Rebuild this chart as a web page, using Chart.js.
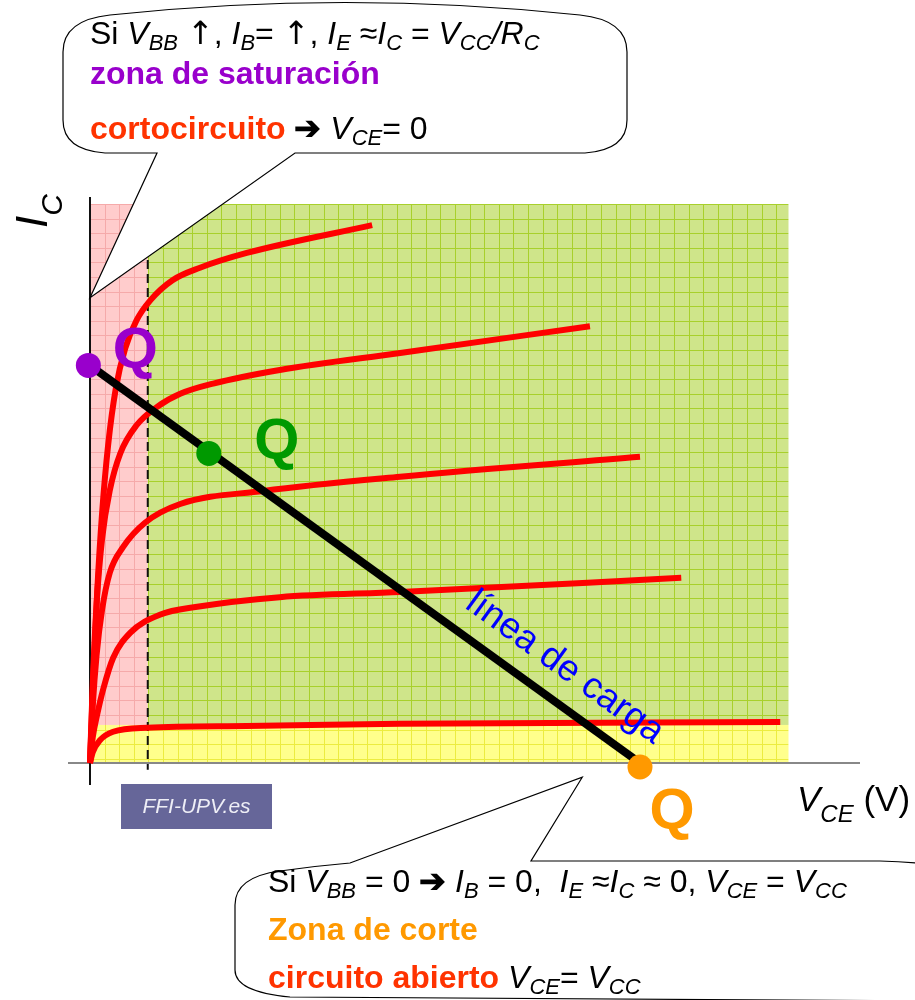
<!DOCTYPE html>
<html lang="es">
<head>
<meta charset="UTF-8">
<title>Recta de carga del transistor</title>
<script src="https://cdn.jsdelivr.net/npm/chart.js"></script>
<style>
  html, body { margin: 0; padding: 0; background: #fff; }
  canvas { display: block; }
</style>
</head>
<body>
<canvas id="bjtChart" width="915" height="1000"></canvas>
<script>
// Curvas caracteristicas I_C (unid. relativas) frente a V_CE (V), una por cada I_B
const vce1 = [0, 0.06, 0.13, 0.22, 0.33, 0.47, 0.64, 0.85, 1.10, 1.50, 2.00, 2.85, 5.13];
const ic1  = [0, 1.50, 3.00, 4.40, 5.60, 6.60, 7.30, 7.80, 8.15, 8.50, 8.72, 8.98, 9.47];
const vce2 = [0, 0.05, 0.12, 0.22, 0.36, 0.55, 0.85, 1.22, 1.64, 2.24, 3.45, 5.64, 9.09];
const ic2  = [0, 1.40, 2.80, 3.95, 4.80, 5.45, 5.95, 6.27, 6.50, 6.68, 6.92, 7.22, 7.69];
const vce3 = [0, 0.05, 0.12, 0.22, 0.36, 0.60, 1.00, 1.64, 3.15, 5.64, 10.0];
const ic3  = [0, 1.00, 1.90, 2.70, 3.35, 3.80, 4.23, 4.56, 4.79, 5.04, 5.39];
const vce4 = [0, 0.05, 0.13, 0.24, 0.42, 0.73, 1.27, 1.95, 3.45, 5.64, 10.75];
const ic4  = [0, 0.45, 0.85, 1.30, 1.85, 2.29, 2.61, 2.75, 2.92, 3.01, 3.26];
const vce5 = [0, 0.05, 0.18, 0.42, 1.04, 2.85, 5.64, 12.55];
const ic5  = [0, 0.19, 0.40, 0.55, 0.62, 0.65, 0.69, 0.72];

// recta de carga: (0, Vcc/Rc) -> (Vcc, 0)
const loadVce = [0, 10];
const loadIc  = [7, 0];

// puntos Q: saturacion, activa, corte
const qVce = [-0.03, 2.16, 10.0];
const qIc  = [7.0, 5.45, -0.07];
const qColors = ['#9900cc', '#009900', '#ff9900'];

// limites de las zonas
const vceSat = 1.05;      // saturacion
const icCut = 0.67;       // corte
const vceArea = 12.7;
const icArea = 9.84;

// ---------------------------------------------------------------
const FONT = '"Liberation Sans", Arial, Helvetica, sans-serif';
const GRID = 14.6;

const zip = (xs, ys) => xs.map((v, i) => ({ x: v, y: ys[i] }));

function curve(xs, ys) {
  return {
    data: zip(xs, ys),
    showLine: true,
    borderColor: '#ff0000',
    borderWidth: 6,
    pointRadius: 0,
    cubicInterpolationMode: 'monotone',
    order: 3
  };
}

// texto con subindices
function rich(ctx, x, y, parts, size, drop) {
  parts.forEach(p => {
    const fs = p.s ? Math.round(size * 0.68) : size;
    const fam = p.d ? '"DejaVu Sans", sans-serif' : FONT;
    ctx.font = (p.i ? 'italic ' : '') + (p.b ? 'bold ' : '') + fs + 'px ' + fam;
    ctx.fillStyle = p.c || '#000';
    ctx.fillText(p.t, x, y + (p.s ? size * drop : 0));
    x += ctx.measureText(p.t).width;
  });
}
const T = t => ({ t });
const I = t => ({ t, i: true });
const S = t => ({ t, i: true, s: true });
const B = (t, c) => ({ t, b: true, c });
const UP = { t: '↑', d: true };

function zona(ctx, l, t, r, b, bg, line, ox, oy) {
  ctx.save();
  ctx.fillStyle = bg;
  ctx.fillRect(l, t, r - l, b - t);
  ctx.beginPath();
  ctx.rect(l, t, r - l, b - t);
  ctx.clip();
  ctx.strokeStyle = line;
  ctx.lineWidth = 1;
  ctx.beginPath();
  for (let gx = ox + Math.ceil((l - ox) / GRID) * GRID; gx <= r; gx += GRID) {
    ctx.moveTo(Math.round(gx) + 0.5, t);
    ctx.lineTo(Math.round(gx) + 0.5, b);
  }
  for (let gy = oy + Math.ceil((t - oy) / GRID) * GRID; gy <= b; gy += GRID) {
    ctx.moveTo(l, Math.round(gy) + 0.5);
    ctx.lineTo(r, Math.round(gy) + 0.5);
  }
  ctx.stroke();
  ctx.restore();
}

const fondoPlugin = {
  id: 'fondo',
  beforeDatasetsDraw(chart) {
    const { ctx, chartArea: ca, scales: { x, y } } = chart;
    const x0 = x.getPixelForValue(0), xs = x.getPixelForValue(vceSat), xm = x.getPixelForValue(vceArea);
    const y0 = y.getPixelForValue(0), yc = y.getPixelForValue(icCut), ym = y.getPixelForValue(icArea);

    zona(ctx, x0, ym, xs, yc, '#ffcccc', '#f5aaaa', x0, ym);
    zona(ctx, xs, ym, xm, yc, '#cfe58a', '#a8d02c', x0, ym);
    zona(ctx, x0, yc, xm, y0, '#ffff8c', '#ecec40', x0, ym);

    ctx.save();
    // eje V_CE
    ctx.strokeStyle = '#888';
    ctx.lineWidth = 2;
    ctx.beginPath();
    ctx.moveTo(ca.left, y0);
    ctx.lineTo(ca.right, y0);
    ctx.stroke();
    // eje I_C
    ctx.strokeStyle = '#111';
    ctx.beginPath();
    ctx.moveTo(x0, ca.top + 2);
    ctx.lineTo(x0, ca.bottom - 5);
    ctx.stroke();
    // limite de saturacion
    ctx.setLineDash([9, 5]);
    ctx.beginPath();
    ctx.moveTo(xs, ym);
    ctx.lineTo(xs, y.getPixelForValue(-0.12));
    ctx.stroke();
    ctx.restore();
  },
  afterDatasetsDraw(chart) {
    const { ctx, scales: { x, y } } = chart;
    ctx.save();
    // etiquetas Q
    const offs = [[47, 3], [68, 6], [32, 62]];
    ctx.font = 'bold 58px ' + FONT;
    ctx.textAlign = 'center';
    qVce.forEach((v, i) => {
      ctx.fillStyle = qColors[i];
      ctx.fillText('Q', x.getPixelForValue(v) + offs[i][0], y.getPixelForValue(qIc[i]) + offs[i][1]);
    });
    // texto sobre la recta de carga
    const ax = x.getPixelForValue(loadVce[0]), ay = y.getPixelForValue(loadIc[0]);
    const bx = x.getPixelForValue(loadVce[1]), by = y.getPixelForValue(loadIc[1]);
    const ang = Math.atan2(by - ay, bx - ax);
    ctx.translate(ax + (bx - ax) * 0.655, ay + (by - ay) * 0.655);
    ctx.rotate(ang);
    ctx.textAlign = 'left';
    ctx.fillStyle = '#0000ff';
    ctx.font = '37px ' + FONT;
    ctx.fillText('línea de carga', 0, -23);
    ctx.restore();
  },
  afterDraw(chart) {
    const { ctx, scales: { x, y } } = chart;
    ctx.save();
    ctx.textAlign = 'left';
    ctx.textBaseline = 'alphabetic';

    // globo superior (saturacion)
    const t1x = x.getPixelForValue(0), t1y = y.getPixelForValue(8.19);
    ctx.beginPath();
    ctx.moveTo(63, 52);
    ctx.quadraticCurveTo(63, 20, 110, 15);
    ctx.quadraticCurveTo(345, -10, 580, 15);
    ctx.quadraticCurveTo(627, 20, 627, 52);
    ctx.lineTo(627, 120);
    ctx.quadraticCurveTo(627, 150, 585, 153);
    ctx.lineTo(295, 153);
    ctx.lineTo(t1x, t1y);
    ctx.lineTo(157, 153);
    ctx.lineTo(105, 153);
    ctx.quadraticCurveTo(63, 150, 63, 120);
    ctx.closePath();
    ctx.fillStyle = '#fff';
    ctx.fill();
    ctx.strokeStyle = '#000';
    ctx.lineWidth = 1.2;
    ctx.stroke();

    rich(ctx, 90, 44, [T('Si '), I('V'), S('BB'), T(' '), UP, T(', '), I('I'), S('B'), T('= '), UP, T(', '), I('I'), S('E'),
      T(' ≈'), I('I'), S('C'), T(' = '), I('V'), S('CC'), I('/'), I('R'), S('C')], 32, 0.2);
    rich(ctx, 90, 84, [B('zona de saturación', '#9900cc')], 32, 0.2);
    rich(ctx, 90, 139, [B('cortocircuito ', '#ff3300'), B('➔ '), I('V'), S('CE'), T('= 0')], 32, 0.2);

    // globo inferior (corte)
    const t2x = x.getPixelForValue(8.95), t2y = y.getPixelForValue(-0.25);
    ctx.beginPath();
    ctx.moveTo(235, 905);
    ctx.quadraticCurveTo(235, 877, 280, 871);
    ctx.quadraticCurveTo(315, 866, 350, 863);
    ctx.lineTo(t2x, t2y);
    ctx.lineTo(531, 861);
    ctx.lineTo(880, 861);
    ctx.quadraticCurveTo(915, 862, 940, 866);
    ctx.lineTo(940, 1001);
    ctx.lineTo(290, 997);
    ctx.quadraticCurveTo(235, 992, 235, 970);
    ctx.closePath();
    ctx.fillStyle = '#fff';
    ctx.fill();
    ctx.stroke();

    rich(ctx, 268, 892, [T('Si '), I('V'), S('BB'), T(' = 0 '), B('➔'), T(' '), I('I'), S('B'), T(' = 0,  '), I('I'), S('E'),
      T(' ≈'), I('I'), S('C'), T(' ≈ 0, '), I('V'), S('CE'), T(' = '), I('V'), S('CC')], 32, 0.2);
    rich(ctx, 268, 940, [B('Zona de corte', '#ff9900')], 32, 0.2);
    rich(ctx, 268, 988, [B('circuito abierto ', '#ff3300'), I('V'), S('CE'), T('= '), I('V'), S('CC')], 32, 0.2);

    // titulos de ejes
    rich(ctx, 797, 811, [I('V'), S('CE'), T(' (V)')], 35, 0.31);
    ctx.save();
    ctx.translate(47, 228);
    ctx.rotate(-Math.PI / 2);
    rich(ctx, 0, 0, [I('I'), S('C')], 44, 0.34);
    ctx.restore();

    // marca
    ctx.fillStyle = '#666699';
    ctx.fillRect(121, 784, 151, 45);
    ctx.fillStyle = '#eeeef6';
    ctx.font = 'italic 21px ' + FONT;
    ctx.textAlign = 'center';
    ctx.textBaseline = 'middle';
    ctx.fillText('FFI-UPV.es', 196.5, 807);
    ctx.restore();
  }
};

new Chart(document.getElementById('bjtChart'), {
  type: 'scatter',
  data: {
    datasets: [
      {
        data: zip(qVce, qIc),
        backgroundColor: qColors,
        borderWidth: 0,
        pointRadius: 12.5,
        showLine: false,
        order: 1
      },
      {
        data: zip(loadVce, loadIc),
        showLine: true,
        borderColor: '#000',
        borderWidth: 8,
        pointRadius: 0,
        order: 2
      },
      curve(vce1, ic1),
      curve(vce2, ic2),
      curve(vce3, ic3),
      curve(vce4, ic4),
      curve(vce5, ic5)
    ]
  },
  options: {
    responsive: false,
    animation: false,
    devicePixelRatio: 1,
    events: [],
    layout: { padding: { left: 68, right: 55, top: 195, bottom: 210 } },
    scales: {
      x: { type: 'linear', min: -0.4, max: 14.0, display: false },
      y: { type: 'linear', min: -0.475, max: 10.0, display: false }
    },
    plugins: {
      legend: { display: false },
      tooltip: { enabled: false }
    }
  },
  plugins: [fondoPlugin]
});
</script>
</body>
</html>
